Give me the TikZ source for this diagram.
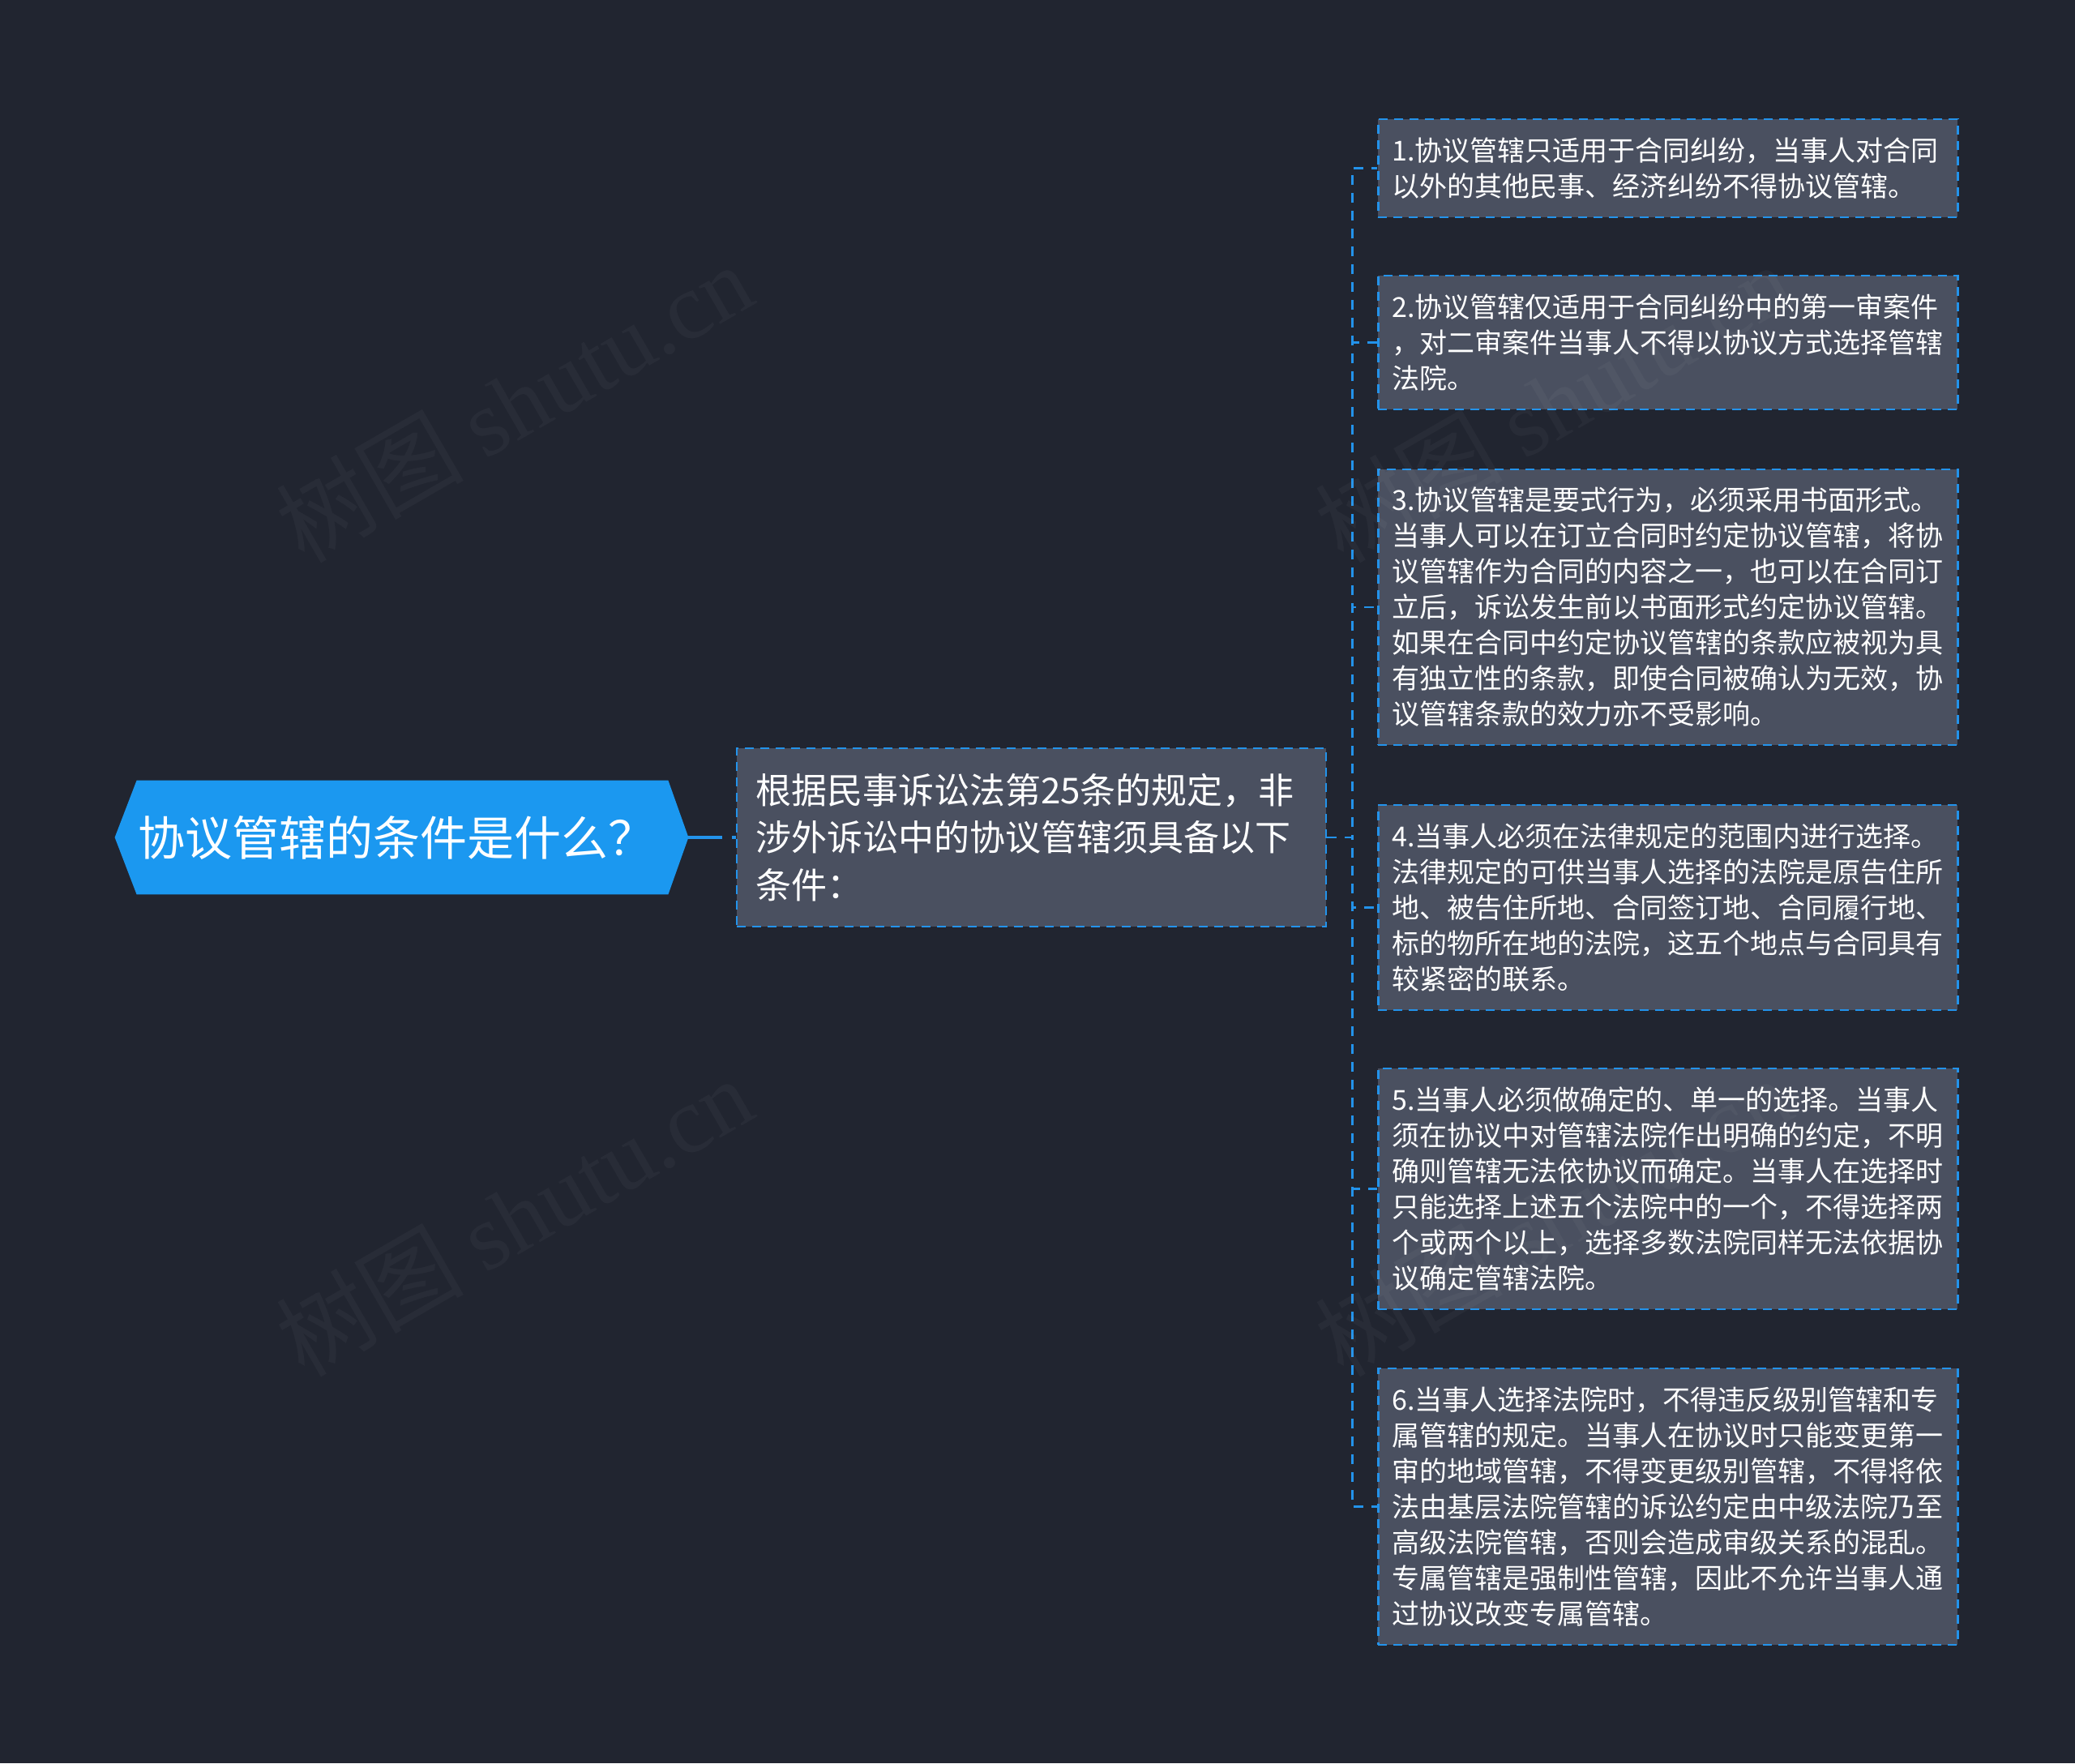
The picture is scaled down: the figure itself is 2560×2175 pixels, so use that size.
\documentclass[tikz,border=0pt]{standalone}
\usepackage{fontspec}
\setmainfont{Noto Sans CJK SC}
\newfontfamily\wmlatin{Liberation Serif}
\definecolor{bgcol}{RGB}{33,37,48}
\definecolor{rootcol}{RGB}{27,152,240}
\definecolor{boxcol}{RGB}{74,80,96}
\definecolor{linecol}{RGB}{35,147,235}
\pgfdeclarelayer{bg}
\pgfsetlayers{bg,main}
\begin{document}
\begin{tikzpicture}[x=0.5pt,y=-0.5pt,
  rootnode/.style={rectangle,minimum width=353.5pt,minimum height=70pt,inner sep=0pt,
    text=white,font=\fontsize{29pt}{34pt}\selectfont},
  midnode/.style={rectangle,fill=boxcol,draw=linecol,line width=1.25pt,dash pattern=on 5.5pt off 4pt,
    text width=340.5pt,inner xsep=11.5pt,inner ysep=0pt,minimum height=110pt,align=left,
    text=white,font=\fontsize{22pt}{29.25pt}\selectfont},
  leaf/.style={rectangle,fill=boxcol,draw=linecol,line width=1.25pt,dash pattern=on 5.5pt off 4pt,
    text width=340.5pt,inner xsep=8.5pt,inner ysep=0pt,align=left,anchor=west,
    text=white,font=\fontsize{17pt}{22pt}\selectfont},
  rootconn/.style={draw=linecol,line width=2pt,dash pattern=on 21pt off 6pt},
  conn/.style={draw=linecol,line width=1.25pt,dash pattern=on 6pt off 5pt},
  wm/.style={text=white,opacity=0.035,font=\fontsize{58pt}{60pt}\selectfont,anchor=base west,rotate=30,inner sep=0pt}
]
\useasboundingbox (0,0) rectangle (2560,2175);

\node[rootnode] (root) at (495.5,1033) {协议管辖的条件是什么？\kern6pt};

\begin{pgfonlayer}{bg}
\fill[bgcol] (0,0) rectangle (2560,2175);
\fill[rootcol] (root.west) -- ([xshift=13.5pt]root.north west) -- ([xshift=-12.5pt]root.north east)
  -- (root.east) -- ([xshift=-12.5pt]root.south east) -- ([xshift=13.5pt]root.south west) -- cycle;
\end{pgfonlayer}

\node[midnode] (mid) at (1272.5,1033) {根据民事诉讼法第25条的规定，非\\涉外诉讼中的协议管辖须具备以下\\条件：};

\node[leaf,minimum height=60.5pt] (l1) at (1699,207.5) {1.协议管辖只适用于合同纠纷，当事人对合同\\以外的其他民事、经济纠纷不得协议管辖。};
\node[leaf,minimum height=82.5pt] (l2) at (1699,422.5) {2.协议管辖仅适用于合同纠纷中的第一审案件\\，对二审案件当事人不得以协议方式选择管辖\\法院。};
\node[leaf,minimum height=170pt] (l3) at (1699,749) {3.协议管辖是要式行为，必须采用书面形式。\\当事人可以在订立合同时约定协议管辖，将协\\议管辖作为合同的内容之一，也可以在合同订\\立后，诉讼发生前以书面形式约定协议管辖。\\如果在合同中约定协议管辖的条款应被视为具\\有独立性的条款，即使合同被确认为无效，协\\议管辖条款的效力亦不受影响。};
\node[leaf,minimum height=126.5pt] (l4) at (1699,1119.5) {4.当事人必须在法律规定的范围内进行选择。\\法律规定的可供当事人选择的法院是原告住所\\地、被告住所地、合同签订地、合同履行地、\\标的物所在地的法院，这五个地点与合同具有\\较紧密的联系。};
\node[leaf,minimum height=148.5pt] (l5) at (1699,1466.5) {5.当事人必须做确定的、单一的选择。当事人\\须在协议中对管辖法院作出明确的约定，不明\\确则管辖无法依协议而确定。当事人在选择时\\只能选择上述五个法院中的一个，不得选择两\\个或两个以上，选择多数法院同样无法依据协\\议确定管辖法院。};
\node[leaf,minimum height=170.5pt] (l6) at (1699,1858.5) {6.当事人选择法院时，不得违反级别管辖和专\\属管辖的规定。当事人在协议时只能变更第一\\审的地域管辖，不得变更级别管辖，不得将依\\法由基层法院管辖的诉讼约定由中级法院乃至\\高级法院管辖，否则会造成审级关系的混乱。\\专属管辖是强制性管辖，因此不允许当事人通\\过协议改变专属管辖。};

\draw[rootconn] (root.east) -- (mid.west);
\foreach \n in {l1,l2,l3,l4,l5,l6}{
  \draw[conn] (mid.east) -- ++(31,0) |- (\n.west);
}

\node[wm] (wm1) at (375,697) {树图 {\wmlatin shutu.cn}};
\node[wm] (wm2) at (375,1701) {树图 {\wmlatin shutu.cn}};
\node[wm] (wm3) at (1657,697) {树图 {\wmlatin shutu.cn}};
\node[wm] (wm4) at (1657,1701) {树图 {\wmlatin shutu.cn}};
\end{tikzpicture}
\end{document}
